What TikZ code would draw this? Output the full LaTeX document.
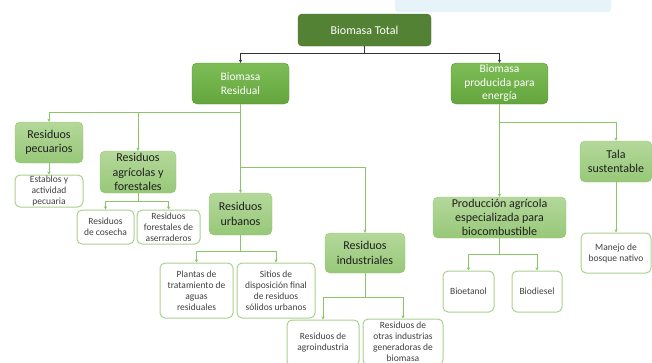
\documentclass[tikz,border=0pt]{standalone}
\usepackage{fontspec}
\setmainfont{Carlito}
\usetikzlibrary{arrows.meta,positioning}
\definecolor{totalgreen}{HTML}{548235}
\definecolor{maintop}{HTML}{7EBD57}
\definecolor{mainbot}{HTML}{64A53D}
\definecolor{cattop}{HTML}{B4D89B}
\definecolor{catbot}{HTML}{97C878}
\definecolor{leafgreen}{HTML}{A9D18E}
\definecolor{linegreen}{HTML}{8CC46A}
\definecolor{bgblue}{HTML}{E6F3F9}

\begin{document}
\begin{tikzpicture}[x=1pt, y=-1pt,
  >={Stealth[length=3.2pt,width=3.2pt]},
  total/.style={draw=totalgreen!85!black, fill=totalgreen, rounded corners=4pt, text=white, font=\fontsize{12}{14}\selectfont, minimum width=133pt, minimum height=32pt},
  main/.style={draw=mainbot!90!black, top color=maintop, bottom color=mainbot, rounded corners=5pt, text=white, align=center, font=\fontsize{11.5}{13.5}\selectfont, inner sep=0pt, minimum width=97pt, minimum height=41pt},
  cat/.style={draw=catbot, top color=cattop, bottom color=catbot, rounded corners=5pt, text=black!88, align=center, font=\fontsize{12}{14.3}\selectfont, inner sep=0pt},
  leaf/.style={draw=leafgreen, line width=1pt, fill=white, rounded corners=5pt, text=black!75, align=center, font=\fontsize{9.5}{11}\selectfont, inner sep=0pt},
  conn/.style={linegreen, line width=1pt, ->},
  topconn/.style={black!80, line width=0.8pt, ->}]
\useasboundingbox (0,0) rectangle (652,362);
% ---------------- backdrop ----------------
\fill[bgblue, rounded corners=3pt] (395,-5) rectangle (611,12);
% ---------------- top levels ----------------
\node[total] (tot) at (364.5,30) {Biomasa Total};
\node[main] (res) at (240.5,83.5) {Biomasa\\Residual};
\node[main] (ene) at (499.5,83.5) {Biomasa\\producida para\\energía};
\coordinate (jt) at (364.5,53);
\draw[topconn] (tot.south) -- (jt) -| (res.north);
\draw[topconn] (jt) -| (ene.north);
% ---------------- residual branch ----------------
\node[cat, minimum width=68pt, minimum height=41pt] (pec) at (49,142.5) {Residuos\\pecuarios};
\node[cat, minimum width=76pt, minimum height=42pt] (agr) at (138,172) {Residuos\\agrícolas y\\forestales};
\node[cat, minimum width=63pt, minimum height=42pt] (urb) at (240.5,214) {Residuos\\urbanos};
\node[cat, minimum width=80pt, minimum height=40pt] (ind) at (365,253) {Residuos\\industriales};
\coordinate (jr) at (240.5,112);
\coordinate (ji) at (240.5,167);
\draw[conn] (res.south) -- (jr) -| (pec.north);
\draw[conn] (jr) -| (agr.north);
\draw[conn] (res.south) -- (urb.north);
\draw[conn] (ji) -| (ind.north);
% leaves of the residual branch
\node[leaf, minimum width=68pt, minimum height=32pt] (est) at (49,191) {Establos y\\actividad\\pecuaria};
\node[leaf, minimum width=57pt, minimum height=34pt] (cos) at (105.5,227) {Residuos\\de cosecha};
\node[leaf, minimum width=63pt, minimum height=34pt] (ase) at (168.5,227) {Residuos\\forestales de\\aserraderos};
\node[leaf, minimum width=73pt, minimum height=55pt] (pla) at (196.5,290.5) {Plantas de\\tratamiento de\\aguas\\residuales};
\node[leaf, minimum width=78pt, minimum height=55pt] (sit) at (276,290.5) {Sitios de\\disposición final\\de residuos\\sólidos urbanos};
\node[leaf, minimum width=72pt, minimum height=46pt] (agi) at (323,343) {Residuos de\\agroindustria};
\node[leaf, minimum width=80pt, minimum height=46pt] (otr) at (403,342) {Residuos de\\otras industrias\\generadoras de\\biomasa};
\draw[conn] (pec) -- (est);
\coordinate (ja) at (138,201);
\draw[conn] (agr.south) -- (ja) -| (cos.north);
\draw[conn] (ja) -| (ase.north);
\coordinate (ju) at (240.5,251);
\draw[conn] (urb.south) -- (ju) -| (pla.north);
\draw[conn] (ju) -| (sit.north);
\coordinate (jn) at (365,297);
\draw[conn] (ind.south) -- (jn) -| (agi.north);
\draw[conn] (jn) -| (otr.north);
% ---------------- energy branch ----------------
\node[cat, minimum width=133pt, minimum height=41pt] (agc) at (499.5,217.5) {Producción agrícola\\especializada para\\biocombustible};
\node[cat, minimum width=72pt, minimum height=41pt] (tal) at (616,161.5) {Tala\\sustentable};
\coordinate (je) at (499.5,122);
\draw[conn] (ene.south) -- (agc.north);
\draw[conn] (je) -| (tal.north);
\node[leaf, minimum width=70pt, minimum height=40pt] (bos) at (616,253) {Manejo de\\bosque nativo};
\node[leaf, minimum width=51pt, minimum height=41pt] (eta) at (468.5,291.5) {Bioetanol};
\node[leaf, minimum width=50pt, minimum height=41pt] (die) at (537,291.5) {Biodiesel};
\draw[conn] (tal) -- (bos);
\coordinate (jp) at (499.5,254);
\draw[conn] (agc.south) -- (jp) -| (eta.north);
\draw[conn] (jp) -| (die.north);
\end{tikzpicture}
\end{document}
